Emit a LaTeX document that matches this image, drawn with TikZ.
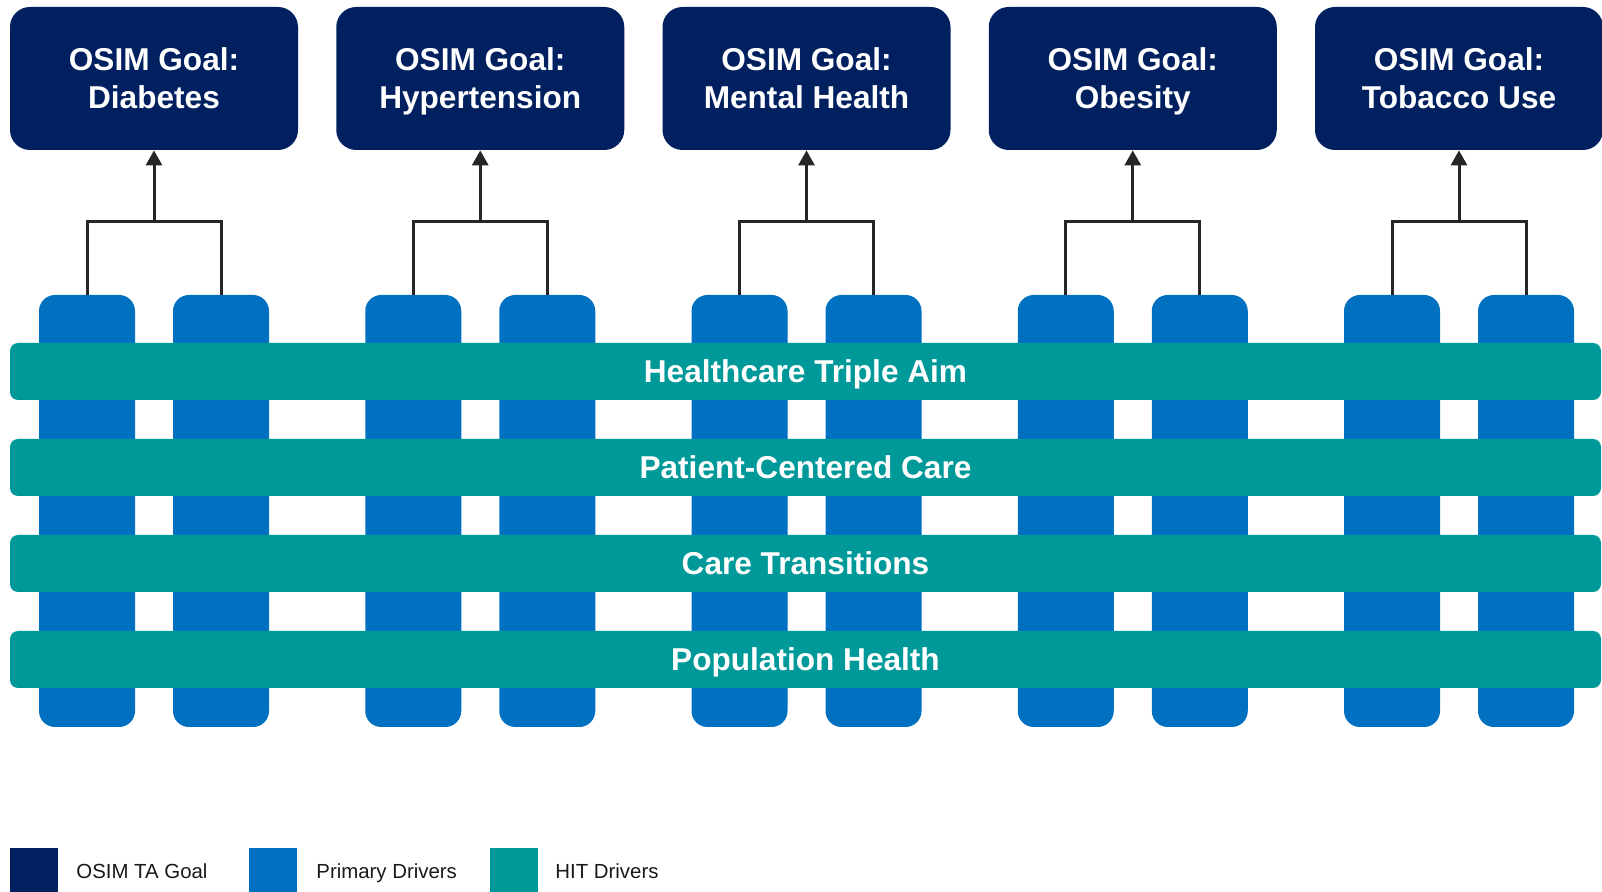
\documentclass[tikz,border=0pt]{standalone}
\usepackage{fontspec}
\setmainfont{Liberation Sans}
\usetikzlibrary{arrows.meta}
\definecolor{goalnavy}{RGB}{0,32,96}
\definecolor{driverblue}{RGB}{0,112,192}
\definecolor{hitteal}{RGB}{0,153,153}
\definecolor{linkgray}{RGB}{38,38,38}
\newcommand{\capstrut}{\rule{0pt}{14.8pt}}
\newcommand{\descstrut}{\rule[-3.5pt]{0pt}{3.5pt}}
\tikzset{
  goal/.style={fill=goalnavy,rounded corners=10pt,minimum width=144pt,minimum height=71.5pt,
    inner sep=0pt,text=white,align=center,font=\fontsize{15.8}{19}\selectfont\bfseries},
  driver/.style={fill=driverblue,rounded corners=8pt,minimum width=48pt,minimum height=216pt,inner sep=0pt},
  hit/.style={fill=hitteal,rounded corners=4pt,minimum width=795.5pt,minimum height=28.5pt,
    inner sep=0pt,text height=14.8pt,text depth=3.5pt,text=white,font=\fontsize{15.8}{19}\selectfont\bfseries},
  link/.style={draw=linkgray,line width=1.5pt},
  legendbox/.style={fill=#1,minimum width=24pt,minimum height=22pt,inner sep=0pt},
  legendtext/.style={anchor=base west,inner sep=0pt,text=black!90,font=\fontsize{10.2}{12}\selectfont}
}
\begin{document}
\begin{tikzpicture}[x=0.5pt,y=-0.5pt]
\useasboundingbox (0,0) rectangle (1602,892);
% goals and primary drivers
\foreach \name [count=\i from 0, evaluate=\i as \x using 154+326.25*\i] in
  {Diabetes,Hypertension,Mental Health,Obesity,Tobacco Use}{
  \node[goal] (g\i) at (\x,78.5) {\capstrut OSIM Goal:\\\name\descstrut};
  \node[driver] (da\i) at (\x-67,511) {};
  \node[driver] (db\i) at (\x+67,511) {};
  \coordinate (j\i) at (\x,222);
  \draw[link] (da\i.north) |- (j\i) -| (db\i.north);
  \draw[link,-{Triangle[width=8pt,length=7.5pt]}] (j\i) -- (g\i.south);
}
% HIT drivers
\node[hit] (h1) at (805.5,371.5) {Healthcare Triple Aim};
\node[hit] (h2) at (805.5,467.5) {Patient-Centered Care};
\node[hit] (h3) at (805.5,563.5) {Care Transitions};
\node[hit] (h4) at (805.5,659.5) {Population Health};
% legend
\node[legendbox=goalnavy] (kgoal) at (34,870) {};
\node[legendtext] (tgoal) at (76,878) {OSIM TA Goal};
\node[legendbox=driverblue] (kdriver) at (273,870) {};
\node[legendtext] (tdriver) at (316,878) {Primary Drivers};
\node[legendbox=hitteal] (khit) at (514,870) {};
\node[legendtext] (thit) at (555,878) {HIT Drivers};
\end{tikzpicture}
\end{document}
